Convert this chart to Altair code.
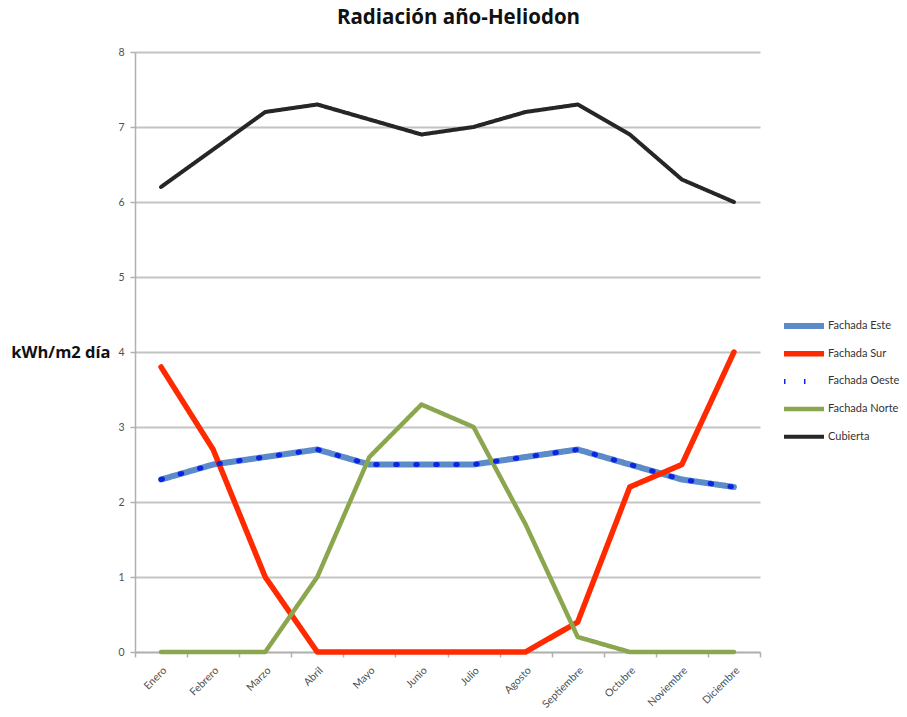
import altair as alt
import pandas as pd

months = ["Enero", "Febrero", "Marzo", "Abril", "Mayo", "Junio", "Julio",
          "Agosto", "Septiembre", "Octubre", "Noviembre", "Diciembre"]
fachada_este = [2.3, 2.5, 2.6, 2.7, 2.5, 2.5, 2.5, 2.6, 2.7, 2.5, 2.3, 2.2]
fachada_sur = [3.8, 2.7, 1.0, 0.0, 0.0, 0.0, 0.0, 0.0, 0.4, 2.2, 2.5, 4.0]
fachada_oeste = [2.3, 2.5, 2.6, 2.7, 2.5, 2.5, 2.5, 2.6, 2.7, 2.5, 2.3, 2.2]
fachada_norte = [0.0, 0.0, 0.0, 1.0, 2.6, 3.3, 3.0, 1.7, 0.2, 0.0, 0.0, 0.0]
cubierta = [6.2, 6.7, 7.2, 7.3, 7.1, 6.9, 7.0, 7.2, 7.3, 6.9, 6.3, 6.0]

series_names = ["Fachada Este", "Fachada Sur", "Fachada Oeste", "Fachada Norte", "Cubierta"]
series_values = [fachada_este, fachada_sur, fachada_oeste, fachada_norte, cubierta]

colors = ["#5b8bc8", "#ff2a00", "#0b24e6", "#8ca64f", "#262626"]
widths = [6, 4, 4, 4, 4.5]
dashes = [[1, 0], [1, 0], [1.5, 18.5], [1, 0], [1, 0]]

rows = []
for name, vals in zip(series_names, series_values):
    for m, v in zip(months, vals):
        rows.append({"mes": m, "serie": name, "valor": v})
df = pd.DataFrame(rows)

FONT = "Lato"
TFONT = "Open Sans"

x_enc = alt.X("mes:N", sort=months,
              scale=alt.Scale(type="band", paddingInner=0, paddingOuter=0),
              axis=alt.Axis(title=None, labelAngle=315, tickBand="extent",
                            labelFontSize=10.5, labelColor="#505050", labelPadding=8,
                            domainColor="#b0b0b0", domainWidth=1.5,
                            tickColor="#b0b0b0", tickSize=5, tickWidth=1.5,
                            grid=False))
y_enc = alt.Y("valor:Q",
              scale=alt.Scale(domain=[0, 8], nice=False),
              axis=alt.Axis(title="kWh/m2 día", titleAngle=0, titleAlign="right",
                            titleBaseline="middle", titleX=-25, titleY=300,
                            titleFontSize=16.5, titleFont=TFONT, titleFontWeight="bold",
                            titleColor="#111111",
                            values=[0, 1, 2, 3, 4, 5, 6, 7, 8], format="d",
                            labelFontSize=10.5, labelColor="#505050", labelPadding=6,
                            domainColor="#b0b0b0", domainWidth=1.5,
                            tickColor="#b0b0b0", tickSize=5, tickWidth=1.5,
                            grid=True, gridColor="#c4c4c4", gridWidth=2))

color_enc = alt.Color("serie:N", title=None,
                      scale=alt.Scale(domain=series_names, range=colors),
                      legend=alt.Legend(orient="none", legendX=646, legendY=266,
                                        symbolType="stroke", symbolSize=1600,
                                        clipHeight=16, rowPadding=11.7, labelOffset=1,
                                        labelFontSize=11, labelColor="#333333",
                                        labelFont=FONT))
dash_enc = alt.StrokeDash("serie:N", title=None,
                          scale=alt.Scale(domain=series_names, range=dashes))
width_enc = alt.StrokeWidth("serie:N", title=None,
                            scale=alt.Scale(domain=series_names, range=widths))

base = alt.Chart(df).encode(x=x_enc, y=y_enc, color=color_enc,
                            strokeDash=dash_enc, strokeWidth=width_enc)

main = base.transform_filter(alt.datum.serie != "Fachada Oeste").mark_line(strokeCap="round", strokeJoin="round")
oeste = base.transform_filter(alt.datum.serie == "Fachada Oeste").mark_line(strokeCap="round", strokeJoin="round")

chart = alt.layer(main, oeste).properties(
    width=625, height=600,
    title=alt.TitleParams("Radiación año-Heliodon", font=TFONT, fontSize=20.5,
                          fontWeight="bold", color="#111111", anchor="middle",
                          dx=11, offset=19),
    autosize=alt.AutoSizeParams(type="none"),
    padding={"left": 135, "top": 52, "right": 147, "bottom": 65},
).configure_view(stroke=None).configure_axis(labelFont=FONT)

chart.save("out.html", embed_options={"renderer": "svg", "actions": False})
